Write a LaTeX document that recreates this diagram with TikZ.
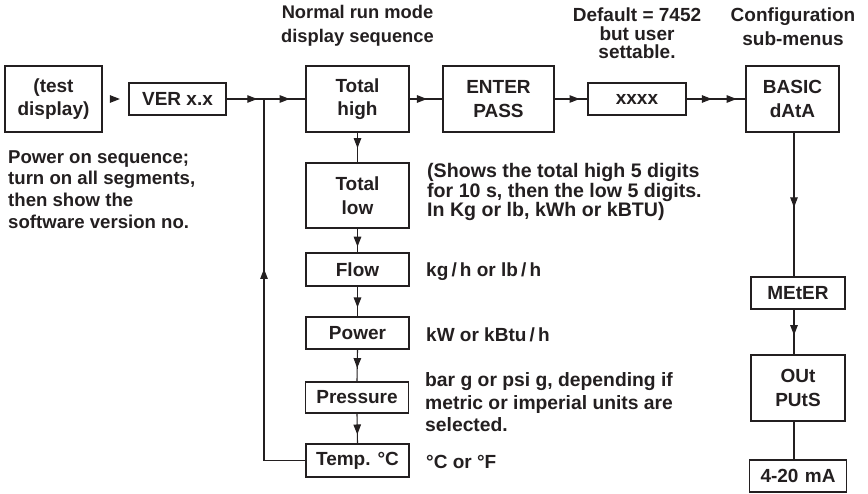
\documentclass[tikz,border=0pt]{standalone}
\usepackage{fontspec}
\setmainfont{Liberation Sans}
\usetikzlibrary{arrows.meta,decorations.markings,calc}
\definecolor{ink}{HTML}{231F20}
\tikzset{
  box/.style={draw=ink, line width=1.1pt, inner sep=0pt, align=center,
    font=\bfseries\fontsize{19}{23.5}\selectfont, text=ink},
  lbl/.style={inner sep=0pt, align=left, anchor=west, text=ink},
  ttl/.style={inner sep=0pt, align=center, text=ink},
  conn/.style={draw=ink, line width=1.1pt},
  tipshape/.style={-{Triangle[length=10pt,width=7.5pt]}},
  tipat/.style={postaction={decorate}, decoration={markings,
    mark=at position #1 with {\arrow{Triangle[length=10pt,width=7.5pt]}}}},
  tiptwo/.style={postaction={decorate}, decoration={markings,
    mark=at position 0.43 with {\arrow{Triangle[length=10pt,width=7.5pt]}},
    mark=at position 0.85 with {\arrow{Triangle[length=10pt,width=7.5pt]}}}},
}
\newcommand{\fs}[2]{\bfseries\fontsize{#1}{#2}\selectfont}
\begin{document}
\begin{tikzpicture}[x=1pt,y=-1pt]
\useasboundingbox (0,0) rectangle (868,493);
% top row
\node[box, minimum width=97pt, minimum height=66pt] (test) at (53.5,99) {(test\\display)};
\node[box, minimum width=97pt, minimum height=32pt] (ver) at (177.5,99) {VER x.x};
\node[box, minimum width=103pt, minimum height=66pt] (th) at (357.5,99) {Total\\high};
\node[box, minimum width=111pt, minimum height=66pt] (enter) at (498.5,99) {ENTER\\PASS};
\node[box, minimum width=98pt, minimum height=32pt] (xxxx) at (637,99) {xxxx};
\node[box, minimum width=93pt, minimum height=66pt] (basic) at (792.5,99) {BASIC\\dAtA};
% run column
\node[box, minimum width=103pt, minimum height=65pt] (tl) at (357.5,195.5) {Total\\low};
\node[box, minimum width=103pt, minimum height=33pt] (flow) at (357.5,269.5) {Flow};
\node[box, minimum width=103pt, minimum height=32pt] (power) at (357.5,333) {Power};
\node[box, minimum width=103pt, minimum height=31pt] (pressure) at (357,397.5) {Pressure};
\node[box, minimum width=103pt, minimum height=33pt] (temp) at (357.5,460.5) {Temp. °C};
% config column
\node[box, minimum width=94pt, minimum height=32pt] (meter) at (798,293) {MEtER};
\node[box, minimum width=94pt, minimum height=66pt] (outs) at (798,388) {OUt\\PUtS};
\node[box, minimum width=97pt, minimum height=32pt] (ma) at (798,476) {4-20\,\,mA};
% titles and notes
\node[ttl, font=\fs{18.3}{24}] (t1) at (357.5,26) {Normal run mode\\display sequence};
\node[ttl, font=\fs{19}{18.5}] (t2) at (637,33.5) {Default = 7452\\but user\\settable.};
\node[ttl, font=\fs{19}{23.5}] (t3) at (793,26.5) {Configuration\\sub-menus};
\node[lbl, font=\fs{18.6}{21.7}] (n1) at (8,189.5) {Power on sequence;\\turn on all segments,\\then show the\\software version no.};
\node[lbl, font=\fs{19.6}{19.5}] (n2) at (427,192) {(Shows the total high 5 digits\\for 10 s, then the low 5 digits.\\In Kg or lb, kWh or kBTU)};
\node[lbl, font=\fs{19}{20}] (n3) at (426,272) {kg\,/\,h or lb\,/\,h};
\node[lbl, font=\fs{19}{20}] (n4) at (426,335) {kW or kBtu\,/\,h};
\node[lbl, font=\fs{19.3}{22.5}] (n5) at (425,402.5) {bar g or psi g, depending if\\metric or imperial units are\\selected.};
\node[lbl, font=\fs{19}{20}] (n6) at (426,462) {°C or °F};
% connectors
\coordinate (j) at (264,99);
\coordinate (c1) at (j |- temp.west);
\draw[conn,tipshape] ($(test.east)!0.3!(ver.west)$) -- ($(test.east)!0.67!(ver.west)$);
\draw[conn,tipat=0.82] (ver.east) -- (j);
\draw[conn,tipat=0.62] (j) -- (th.west);
\draw[conn,tipat=0.53] (th.east) -- (enter.west);
\draw[conn,tipat=0.76] (enter.east) -- (xxxx.west);
\draw[conn,tiptwo] (xxxx.east) -- (basic.west);
\draw[conn,tipat=0.52] (th.south) -- (tl.north);
\draw[conn,tipat=0.76] (tl.south) -- (flow.north);
\draw[conn,tipat=0.7] (flow.south) -- (power.north);
\draw[conn,tipat=0.58] (power.south) -- (pressure.north);
\draw[conn,tipat=0.7] (pressure.south) -- (temp.north);
\draw[conn] (temp.west) -- (c1);
\draw[conn,tipat=0.53] (c1) -- (j);
\coordinate (bs) at ([xshift=1.5pt]basic.south);
\draw[conn,tipat=0.52] (bs) -- (bs |- meter.north);
\draw[conn,tipat=0.57] (bs |- meter.south) -- (bs |- outs.north);
\draw[conn] (bs |- outs.south) -- (bs |- ma.north);
\end{tikzpicture}
\end{document}
